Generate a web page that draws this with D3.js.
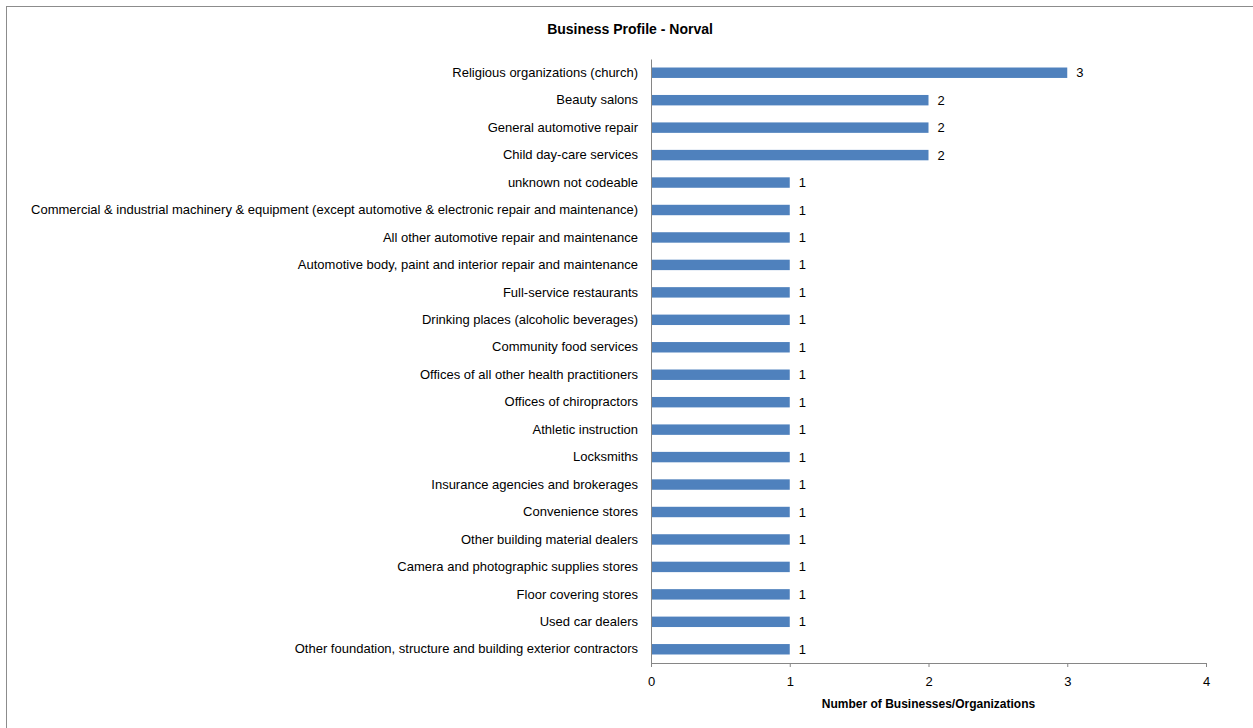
<!DOCTYPE html>
<html><head><meta charset="utf-8">
<script src="https://cdn.jsdelivr.net/npm/d3@7"></script>
<style>
body{margin:0;background:#fff;}
text{font-family:"Liberation Sans",Arial,sans-serif;fill:#000;}
</style></head>
<body>
<svg id="c" width="1253" height="728"></svg>
<script>
const categories = [
"Religious organizations (church)",
"Beauty salons",
"General automotive repair",
"Child day-care services",
"unknown not codeable",
"Commercial & industrial machinery & equipment (except automotive & electronic repair and maintenance)",
"All other automotive repair and maintenance",
"Automotive body, paint and interior repair and maintenance",
"Full-service restaurants",
"Drinking places (alcoholic beverages)",
"Community food services",
"Offices of all other health practitioners",
"Offices of chiropractors",
"Athletic instruction",
"Locksmiths",
"Insurance agencies and brokerages",
"Convenience stores",
"Other building material dealers",
"Camera and photographic supplies stores",
"Floor covering stores",
"Used car dealers",
"Other foundation, structure and building exterior contractors"
];
const values = [3,2,2,2,1,1,1,1,1,1,1,1,1,1,1,1,1,1,1,1,1,1];
const xTicks = [0,1,2,3,4];
const title = "Business Profile - Norval";
const xTitle = "Number of Businesses/Organizations";

const svg = d3.select("#c");
svg.append("rect").attr("x",6.5).attr("y",6.5).attr("width",1250).attr("height",730)
  .attr("fill","#fff").attr("stroke","#8c8c8c").attr("stroke-width",1);

const pL=651, pR=1206, pT=59, pB=663;
const x = d3.scaleLinear().domain([0,4]).range([pL,pR]);
const y = d3.scaleBand().domain(categories).range([pT,pB]).paddingInner(0.62).paddingOuter(0.31);

svg.append("text").attr("x",630).attr("y",34).attr("text-anchor","middle")
  .style("font-weight","bold").style("font-size","14px").text(title);

svg.selectAll("rect.bar").data(categories).enter().append("rect").attr("class","bar")
  .attr("x",x(0)).attr("y",d=>y(d)).attr("width",(d,i)=>x(values[i])-x(0))
  .attr("height",y.bandwidth()).attr("fill","#4F81BD");

svg.selectAll("text.val").data(categories).enter().append("text").attr("class","val")
  .attr("x",(d,i)=>x(values[i])+9).attr("y",d=>y(d)+y.bandwidth()/2).attr("dy","0.35em")
  .style("font-size","13px").text((d,i)=>values[i]);

const xa = svg.append("g").attr("transform",`translate(0,${pB})`)
  .call(d3.axisBottom(x).tickValues(xTicks).tickSize(4).tickPadding(10).tickFormat(d3.format("d")));
xa.select(".domain").attr("stroke","#868686");
xa.selectAll(".tick line").attr("stroke","#868686");
xa.selectAll(".tick text").style("font-size","13px").style("font-family","Liberation Sans, Arial, sans-serif").attr("fill","#000");

const ya = svg.append("g").attr("transform",`translate(${pL},0)`)
  .call(d3.axisLeft(y).tickSize(0).tickPadding(13));
ya.select(".domain").attr("stroke","#868686");
ya.selectAll(".tick text").style("font-size","13px").style("font-family","Liberation Sans, Arial, sans-serif").attr("fill","#000");

svg.append("text").attr("x",(pL+pR)/2).attr("y",708).attr("text-anchor","middle")
  .style("font-weight","bold").style("font-size","12px").text(xTitle);
</script>
</body></html>
